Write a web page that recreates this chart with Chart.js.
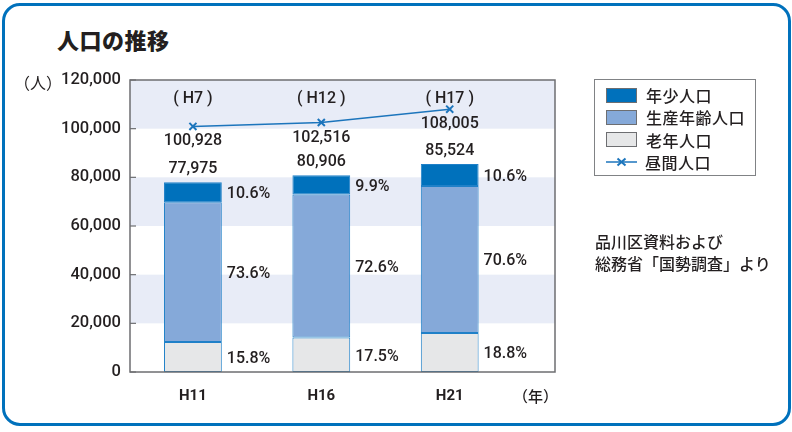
<!DOCTYPE html>
<html>
<head>
<meta charset="utf-8">
<script src="https://cdn.jsdelivr.net/npm/chart.js@4.4.1/dist/chart.umd.min.js"></script>
<style>
  html, body { margin: 0; padding: 0; background: #fff; }
  body { width: 792px; height: 432px; position: relative; overflow: hidden;
         font-family: "Liberation Sans", "Noto Sans CJK JP", sans-serif; color: #231f20; }
  #frame { position: absolute; left: 2px; top: 3px; width: 783px; height: 417px;
           border: 3px solid #0071bc; border-radius: 18px; }
  #title { position: absolute; left: 57px; top: 25px; font: 900 22px "Noto Sans CJK JP", sans-serif;
           line-height: 28px; letter-spacing: 0.5px; }
  #wrap { position: absolute; left: 0; top: 0; width: 792px; height: 432px; }
  #unit { position: absolute; right: 730px; top: 72px; font: 16px "Noto Sans CJK JP", sans-serif; line-height: 20px; }
  #legend { position: absolute; left: 594px; top: 79px; width: 160px; height: 95px;
            border: 1px solid #808285; box-sizing: content-box; }
  .row { position: absolute; left: 11px; height: 22px; display: flex; align-items: center;
         font: 500 16px "Noto Sans CJK JP", sans-serif; letter-spacing: 0.5px; }
  .sw { width: 29px; height: 13px; border: 1px solid #6d6e71; margin-right: 9px; }
  .ln { width: 31px; height: 14px; margin-right: 8px; }
  #note { position: absolute; left: 595px; top: 230px; font: 500 16px "Noto Sans CJK JP", sans-serif;
          line-height: 22px; }
</style>
</head>
<body>
<div id="frame"></div>
<div id="title">人口の推移</div>
<div id="wrap"><canvas id="c" width="792" height="432"></canvas></div>
<div id="unit">（人）</div>
<div id="legend"></div>
<div id="note">品川区資料および<br>総務省「国勢調査」より</div>
<script>
// Census years (bars) and daytime-population survey years (line)
const years = ['H11', 'H16', 'H21'];
const dayYears = ['H7', 'H12', 'H17'];

// Total resident population per census year
const totalPop = [77975, 80906, 85524];

// Age-group shares of the total (%)
const youngPct = [10.6, 9.9, 10.6];
const workingPct = [73.6, 72.6, 70.6];
const elderlyPct = [15.8, 17.5, 18.8];

// Daytime population
const daytimePop = [100928, 102516, 108005];

// Y-axis ticks
const yTicks = [0, 20000, 40000, 60000, 80000, 100000, 120000];

const seriesNames = { young: '年少人口', working: '生産年齢人口', elderly: '老年人口', daytime: '昼間人口' };

const FONT = 'Roboto, "Liberation Sans", "Noto Sans CJK JP", sans-serif';
const INK = '#231f20';
const fmt = v => v.toLocaleString('en-US');

// People in each age group, from the total and its share
const share = pcts => totalPop.map((t, i) => ({ x: i, y: t * pcts[i] / 100 }));

const barStyle = { borderColor: '#1f80c8', borderWidth: 1, borderSkipped: false,
                   barPercentage: 0.45, categoryPercentage: 1, order: 1 };

const datasets = [
  Object.assign({ label: seriesNames.elderly, data: share(elderlyPct), backgroundColor: '#e6e7e8', pct: elderlyPct }, barStyle),
  Object.assign({ label: seriesNames.working, data: share(workingPct), backgroundColor: '#85a9d9', pct: workingPct }, barStyle),
  Object.assign({ label: seriesNames.young, data: share(youngPct), backgroundColor: '#0071bc', pct: youngPct }, barStyle),
  {
    type: 'line', label: seriesNames.daytime, order: 0,
    data: daytimePop.map((v, i) => ({ x: i, y: v })),
    borderColor: '#1c75bc', borderWidth: 1.5, pointStyle: 'crossRot',
    pointRadius: 5, pointBorderWidth: 2, pointBorderColor: '#1c75bc', pointBackgroundColor: '#1c75bc'
  }
];

// Alternating shaded bands between y ticks
const bandsPlugin = {
  id: 'bands',
  beforeDatasetsDraw(chart) {
    const { ctx, chartArea: a, scales: { y } } = chart;
    ctx.save();
    ctx.fillStyle = '#e8ecf7';
    for (let i = yTicks.length - 1; i > 0; i -= 2) {
      const top = y.getPixelForValue(yTicks[i]);
      const bot = y.getPixelForValue(yTicks[i - 1]);
      ctx.fillRect(a.left, top, a.right - a.left, bot - top);
    }
    ctx.restore();
  }
};

// Plot frame and short inward tick marks on the value axis
const framePlugin = {
  id: 'plotFrame',
  afterDatasetsDraw(chart) {
    const { ctx, chartArea: a, scales: { y } } = chart;
    ctx.save();
    ctx.strokeStyle = '#6d6e71';
    ctx.lineWidth = 1.5;
    ctx.strokeRect(a.left, a.top, a.right - a.left, a.bottom - a.top);
    ctx.lineWidth = 1.2;
    yTicks.forEach(v => {
      const py = y.getPixelForValue(v);
      ctx.beginPath();
      ctx.moveTo(a.left, py);
      ctx.lineTo(a.left + 6, py);
      ctx.stroke();
    });
    ctx.restore();
  }
};

// Value labels: shares beside segments, totals above bars, daytime values on the line
const labelPlugin = {
  id: 'valueLabels',
  afterDraw(chart) {
    const { ctx, chartArea: a } = chart;
    ctx.save();
    ctx.fillStyle = INK;
    ctx.font = '500 16px ' + FONT;
    ctx.textBaseline = 'middle';
    chart.data.datasets.forEach((ds, di) => {
      const meta = chart.getDatasetMeta(di);
      if (ds.type === 'line') {
        meta.data.forEach((pt, j) => {
          ctx.textAlign = 'center';
          ctx.fillText(fmt(daytimePop[j]), pt.x, pt.y + 15);
          ctx.fillText('( ' + dayYears[j] + ' )', pt.x, a.top + 19);
        });
        return;
      }
      meta.data.forEach((el, j) => {
        const p = el.getProps(['x', 'y', 'base', 'width'], true);
        ctx.textAlign = 'left';
        ctx.fillText(ds.pct[j].toFixed(1) + '%', p.x + p.width / 2 + 5, (p.y + p.base) / 2 + 2);
        if (di === 2) {
          ctx.textAlign = 'center';
          ctx.fillText(fmt(totalPop[j]), p.x, p.y - 13);
        }
      });
    });
    // year unit at the end of the category axis
    ctx.textAlign = 'right';
    ctx.font = '500 15px "Noto Sans CJK JP", sans-serif';
    ctx.fillText('（年）', a.right + 3, 396);
    ctx.restore();
  }
};

const chart = new Chart(document.getElementById('c'), {
  type: 'bar',
  data: { datasets },
  options: {
    responsive: false,
    animation: false,
    layout: { padding: { left: 0, right: 237, top: 80, bottom: 0 } },
    plugins: { legend: { display: false }, tooltip: { enabled: false } },
    scales: {
      x: {
        type: 'linear', min: -0.49, max: 2.82, offset: false, stacked: true,
        grid: { display: false, drawTicks: false }, border: { display: false },
        afterBuildTicks: s => { s.ticks = years.map((_, i) => ({ value: i })); },
        afterFit: s => { s.height = 60; },
        ticks: { callback: v => years[v], color: INK, padding: 15,
                 font: { family: FONT, size: 15, weight: 'bold' } }
      },
      y: {
        min: 0, max: 120000, stacked: true,
        grid: { display: false, drawTicks: false }, border: { display: false },
        afterBuildTicks: s => { s.ticks = yTicks.map(v => ({ value: v })); },
        afterFit: s => { s.width = 130; },
        ticks: { callback: v => fmt(v), color: INK, padding: 9,
                 font: { family: FONT, size: 16.5, weight: '500' } }
      }
    }
  },
  plugins: [bandsPlugin, framePlugin, labelPlugin]
});

// Legend built from the chart's datasets
const legendOrder = [2, 1, 0, 3];
const legendEl = document.getElementById('legend');
legendOrder.forEach((di, k) => {
  const ds = chart.data.datasets[di];
  const row = document.createElement('div');
  row.className = 'row';
  row.style.top = (4 + k * 22.3) + 'px';
  let mark;
  if (ds.type === 'line') {
    mark = document.createElementNS('http://www.w3.org/2000/svg', 'svg');
    mark.setAttribute('class', 'ln');
    mark.setAttribute('viewBox', '0 0 31 14');
    mark.innerHTML = '<line x1="0" y1="7" x2="31" y2="7" stroke="' + ds.borderColor + '" stroke-width="1.5"/>' +
      '<path d="M11.5 3.5 L19.5 10.5 M19.5 3.5 L11.5 10.5" stroke="' + ds.borderColor + '" stroke-width="2"/>';
  } else {
    mark = document.createElement('div');
    mark.className = 'sw';
    mark.style.background = ds.backgroundColor;
  }
  const txt = document.createElement('span');
  txt.textContent = ds.label;
  row.appendChild(mark);
  row.appendChild(txt);
  legendEl.appendChild(row);
});
</script>
</body>
</html>
